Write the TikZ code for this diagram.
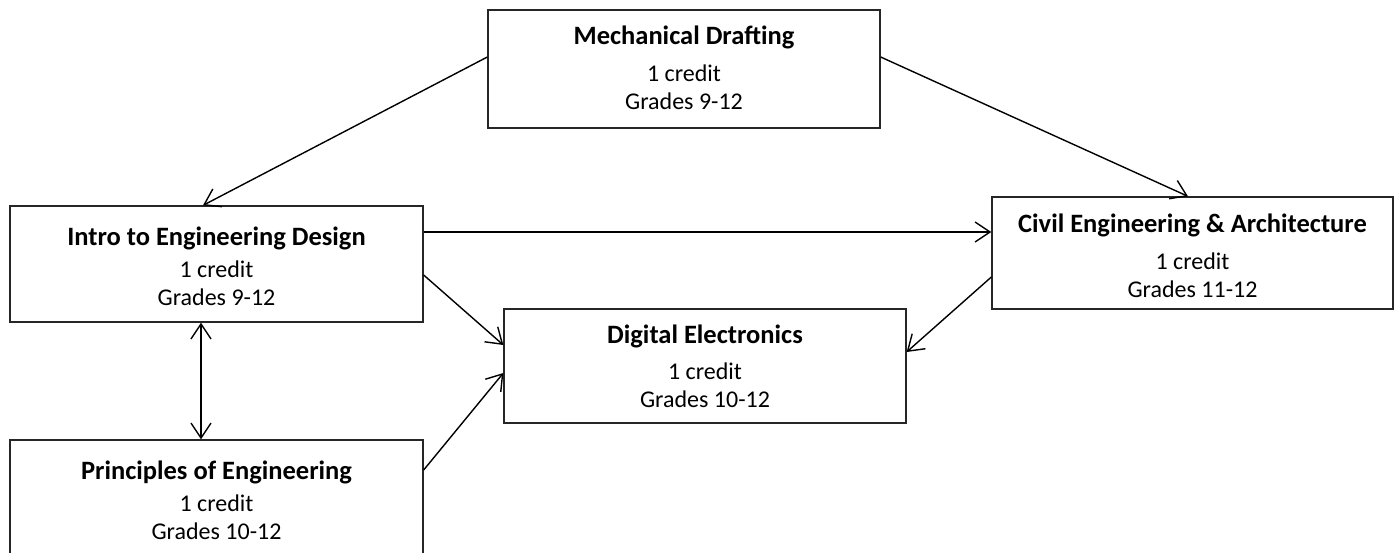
\documentclass[tikz,border=0pt]{standalone}
\usepackage{fontspec}
\setmainfont{Carlito}
\usetikzlibrary{arrows.meta}
\begin{document}
\begin{tikzpicture}[x=1pt,y=-1pt,
  course/.style={draw=black!85, line width=1.3pt, rectangle, inner sep=0pt},
  ttl/.style={anchor=base, inner sep=0pt, font=\fontsize{26.5}{28}\selectfont\bfseries},
  txt/.style={anchor=base, inner sep=0pt, font=\fontsize{24}{28}\selectfont},
  arr/.style={line width=1.4pt, -{Straight Barb[length=15pt,width=20pt,line width=1.4pt]}},
  darr/.style={line width=1.4pt, {Straight Barb[length=15pt,width=20pt,line width=1.4pt]}-{Straight Barb[length=15pt,width=20pt,line width=1.4pt]}}]
\useasboundingbox (0,0) rectangle (1396,552);
% boxes
\node[course, minimum width=392pt, minimum height=118pt] (md) at (684,69) {};
\node[course, minimum width=413pt, minimum height=116pt] (intro) at (216.5,264) {};
\node[course, minimum width=413pt, minimum height=116pt] (poe) at (216.5,498) {};
\node[course, minimum width=401pt, minimum height=112pt] (civil) at (1192.5,253) {};
\node[course, minimum width=402pt, minimum height=114pt] (de) at (705,366) {};
% texts
\node[ttl] (mdT) at ([yshift=-35pt]md.north) {Mechanical Drafting};
\node[txt] (mdC) at ([yshift=-72pt]md.north) {1 credit};
\node[txt] (mdG) at ([yshift=-100pt]md.north) {Grades 9-12};
\node[ttl] (introT) at ([yshift=-40pt]intro.north) {Intro to Engineering Design};
\node[txt] (introC) at ([yshift=-72pt]intro.north) {1 credit};
\node[txt] (introG) at ([yshift=-100pt]intro.north) {Grades 9-12};
\node[ttl] (poeT) at ([yshift=-40pt]poe.north) {Principles of Engineering};
\node[txt] (poeC) at ([yshift=-72pt]poe.north) {1 credit};
\node[txt] (poeG) at ([yshift=-100pt]poe.north) {Grades 10-12};
\node[ttl] (civilT) at ([yshift=-36pt]civil.north) {Civil Engineering \& Architecture};
\node[txt] (civilC) at ([yshift=-73pt]civil.north) {1 credit};
\node[txt] (civilG) at ([yshift=-101pt]civil.north) {Grades 11-12};
\node[ttl] (deT) at ([yshift=-35pt]de.north) {Digital Electronics};
\node[txt] (deC) at ([yshift=-71pt]de.north) {1 credit};
\node[txt] (deG) at ([yshift=-99pt]de.north) {Grades 10-12};
% connectors
\draw[arr] ([yshift=12pt]md.west) -- ([xshift=-13.5pt]intro.north);
\draw[arr] ([yshift=12pt]md.east) -- ([xshift=-4.5pt]civil.north);
\draw[arr] ([yshift=32pt]intro.east) -- ([yshift=21pt]civil.west);
\draw[arr] ([yshift=-11pt]intro.east) -- ([yshift=21pt]de.west);
\draw[arr] ([yshift=28pt]poe.east) -- ([yshift=-7pt]de.west);
\draw[arr] ([yshift=-24pt]civil.west) -- ([yshift=14pt]de.east);
\draw[darr] ([xshift=-15.5pt]intro.south) -- ([xshift=-15.5pt]poe.north);
\end{tikzpicture}
\end{document}
